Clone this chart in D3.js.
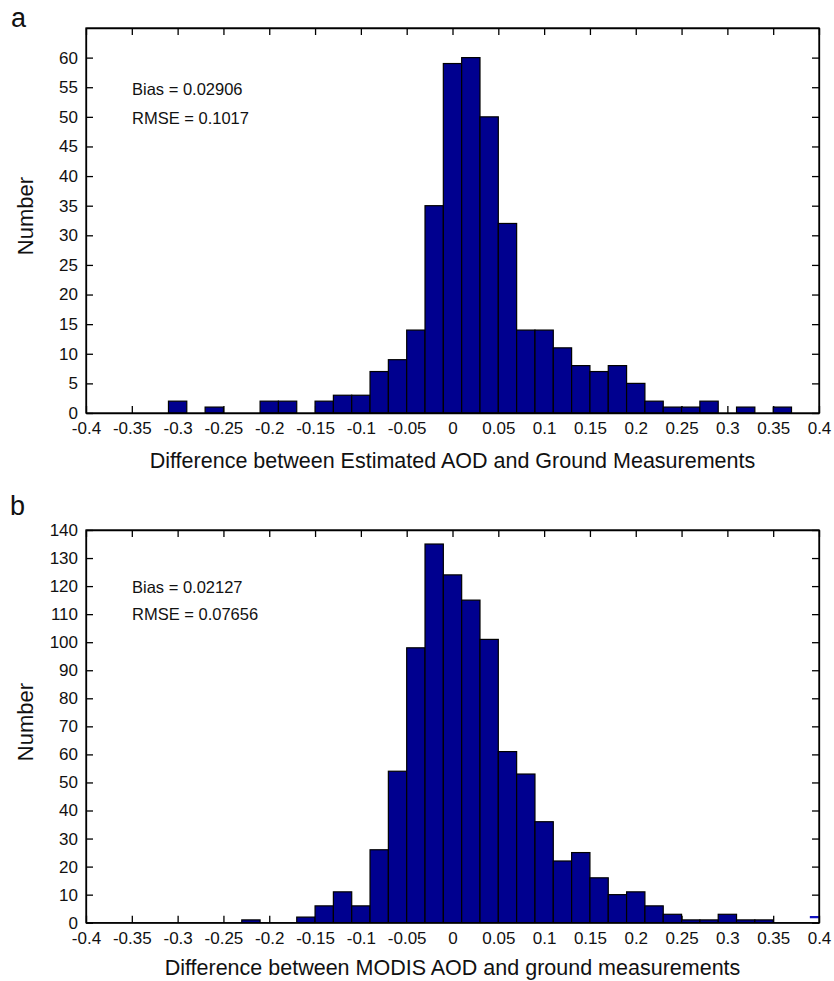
<!DOCTYPE html>
<html>
<head>
<meta charset="utf-8">
<script src="https://cdn.jsdelivr.net/npm/d3@7"></script>
<style>
  html, body { margin: 0; padding: 0; background: #fff; }
  svg { display: block; font-family: "Liberation Sans", Arial, Helvetica, sans-serif; }
</style>
</head>
<body>
<svg id="chart" width="834" height="981"></svg>
<script>
// ---------- data ----------
const aBinCenters = [-0.30,-0.28,-0.26,-0.24,-0.22,-0.20,-0.18,-0.16,-0.14,-0.12,-0.10,-0.08,-0.06,-0.04,-0.02,0.00,0.02,0.04,0.06,0.08,0.10,0.12,0.14,0.16,0.18,0.20,0.22,0.24,0.26,0.28,0.30,0.32,0.34,0.36];
const aCounts     = [2,0,1,0,0,2,2,0,2,3,3,7,9,14,35,59,60,50,32,14,14,11,8,7,8,5,2,1,1,2,0,1,0,1];

const bBinCenters = [-0.22,-0.20,-0.18,-0.16,-0.14,-0.12,-0.10,-0.08,-0.06,-0.04,-0.02,0.00,0.02,0.04,0.06,0.08,0.10,0.12,0.14,0.16,0.18,0.20,0.22,0.24,0.26,0.28,0.30,0.32,0.34];
const bCounts     = [1,0,0,2,6,11,6,26,54,98,135,124,115,101,61,53,36,22,25,16,10,11,6,3,1,1,3,1,1];
// bin at 0.40 that is clipped by the right edge of panel b (only its top edge shows)
const bClippedCenters = [0.40];
const bClippedCounts  = [2];

const binWidth = 0.02;

const xTicks = [-0.4,-0.35,-0.3,-0.25,-0.2,-0.15,-0.1,-0.05,0,0.05,0.1,0.15,0.2,0.25,0.3,0.35,0.4];
const xTickLabels = ["-0.4","-0.35","-0.3","-0.25","-0.2","-0.15","-0.1","-0.05","0","0.05","0.1","0.15","0.2","0.25","0.3","0.35","0.4"];
const aYTicks = [0,5,10,15,20,25,30,35,40,45,50,55,60];
const bYTicks = [0,10,20,30,40,50,60,70,80,90,100,110,120,130,140];

const aNotes = ["Bias = 0.02906", "RMSE = 0.1017"];
const bNotes = ["Bias = 0.02127", "RMSE = 0.07656"];
const aXLabel = "Difference between Estimated AOD and Ground Measurements";
const bXLabel = "Difference between MODIS AOD and ground measurements";
const yLabel = "Number";

// ---------- drawing ----------
const svg = d3.select("#chart");
const BAR = "#00008F";

function panel(opt) {
  const x = d3.scaleLinear().domain([-0.4, 0.4]).range([opt.left, opt.right]);
  const y = d3.scaleLinear().domain([0, opt.ymax]).range([opt.bottom, opt.top]);
  const g = svg.append("g");
  const clipId = "clip-" + opt.letter;
  svg.append("defs").append("clipPath").attr("id", clipId)
    .append("rect").attr("x", opt.left).attr("y", opt.top)
    .attr("width", opt.right - opt.left).attr("height", opt.bottom - opt.top);

  // axes with inward ticks
  const axB = g.append("g").attr("transform", `translate(0,${opt.bottom})`)
    .call(d3.axisBottom(x).tickValues(xTicks).tickFormat((d,i) => xTickLabels[i])
      .tickSizeInner(-7).tickSizeOuter(0).tickPadding(9));
  const axT = g.append("g").attr("transform", `translate(0,${opt.top})`)
    .call(d3.axisTop(x).tickValues(xTicks).tickFormat("").tickSizeInner(-7).tickSizeOuter(0));
  const axL = g.append("g").attr("transform", `translate(${opt.left},0)`)
    .call(d3.axisLeft(y).tickValues(opt.yTicks).tickFormat(d3.format("d"))
      .tickSizeInner(-7).tickSizeOuter(0).tickPadding(8));
  const axR = g.append("g").attr("transform", `translate(${opt.right},0)`)
    .call(d3.axisRight(y).tickValues(opt.yTicks).tickFormat("").tickSizeInner(-7).tickSizeOuter(0));
  [axB, axT, axL, axR].forEach(a => {
    a.selectAll("path.domain").attr("stroke", "#000").attr("stroke-width", 1.3);
    a.selectAll(".tick line").attr("stroke", "#000").attr("stroke-width", 1.3);
    a.selectAll(".tick text").attr("fill", "#111").style("font-size", "17px")
      .style("font-family", '"Liberation Sans", Arial, sans-serif');
  });

  // bars
  const data = opt.centers.map((c, i) => ({c, v: opt.counts[i]})).filter(d => d.v > 0);
  g.append("g").attr("clip-path", `url(#${clipId})`)
    .selectAll("rect").data(data).join("rect")
    .attr("x", d => x(d.c - binWidth / 2))
    .attr("width", d => x(d.c + binWidth / 2) - x(d.c - binWidth / 2))
    .attr("y", d => y(d.v))
    .attr("height", d => y(0) - y(d.v))
    .attr("fill", BAR).attr("stroke", "#000").attr("stroke-width", 1.2);

  if (opt.clipCenters) {
    const cd = opt.clipCenters.map((c, i) => ({c, v: opt.clipCounts[i]}));
    g.append("g").attr("clip-path", `url(#${clipId})`)
      .selectAll("line").data(cd).join("line")
      .attr("x1", d => x(d.c - binWidth / 2)).attr("x2", d => x(d.c + binWidth / 2))
      .attr("y1", d => y(d.v)).attr("y2", d => y(d.v))
      .attr("stroke", "#1010c0").attr("stroke-width", 2.2);
  }

  // frame on top
  g.append("rect").attr("x", opt.left).attr("y", opt.top)
    .attr("width", opt.right - opt.left).attr("height", opt.bottom - opt.top)
    .attr("fill", "none").attr("stroke", "#000").attr("stroke-width", 1.3);

  // annotations
  opt.notes.forEach((t, i) => {
    g.append("text").attr("x", 132).attr("y", opt.noteY[i]).text(t)
      .style("font-size", "16.5px").attr("fill", "#111");
  });

  // axis labels
  g.append("text").attr("x", (opt.left + opt.right) / 2).attr("y", opt.xLabelY)
    .attr("text-anchor", "middle").style("font-size", "21.5px").attr("fill", "#111").text(opt.xLabel);
  g.append("text").attr("transform", `translate(33,${opt.yLabelY}) rotate(-90)`)
    .attr("text-anchor", "middle").style("font-size", "22px").attr("fill", "#111").text(yLabel);

  // panel letter
  g.append("text").attr("x", opt.letterX).attr("y", opt.letterY)
    .style("font-size", "27px").attr("fill", "#111").text(opt.letter);
}

panel({
  letter: "a", letterX: 11, letterY: 27,
  left: 86, right: 819, top: 28, bottom: 413, ymax: 65,
  yTicks: aYTicks, centers: aBinCenters, counts: aCounts,
  notes: aNotes, noteY: [95, 124],
  xLabel: aXLabel, xLabelY: 468, yLabelY: 216
});

panel({
  letter: "b", letterX: 10, letterY: 515,
  left: 86, right: 819, top: 530, bottom: 922.7, ymax: 140,
  yTicks: bYTicks, centers: bBinCenters, counts: bCounts,
  clipCenters: bClippedCenters, clipCounts: bClippedCounts,
  notes: bNotes, noteY: [593, 620],
  xLabel: bXLabel, xLabelY: 975, yLabelY: 722
});
</script>
</body>
</html>
